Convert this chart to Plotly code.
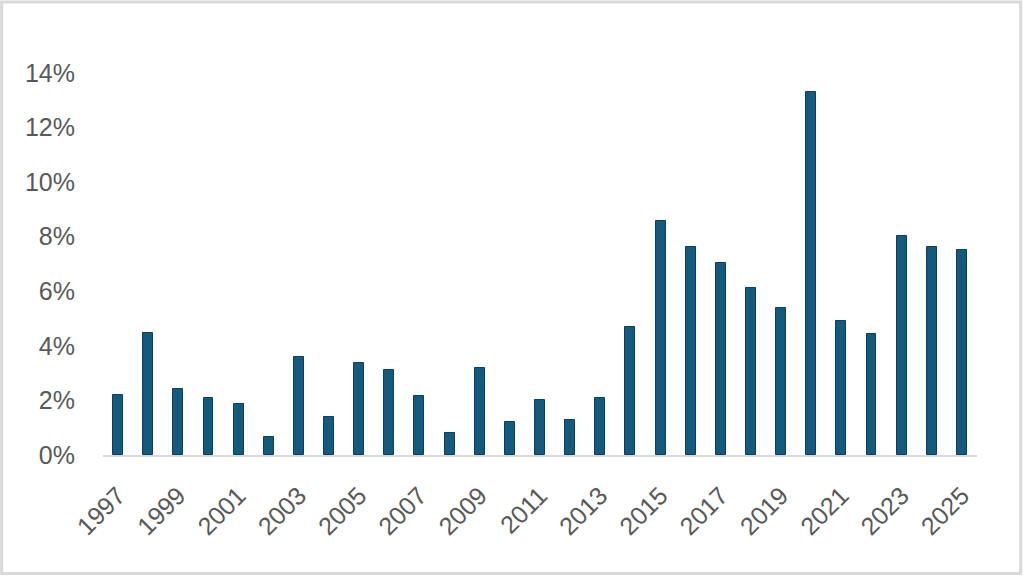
import plotly.graph_objects as go

years = list(range(1997, 2026))
values = [2.2, 4.46, 2.41, 2.08, 1.86, 0.66, 3.58, 1.39, 3.36, 3.11,
          2.16, 0.80, 3.18, 1.21, 2.01, 1.28, 2.08, 4.68, 8.59, 7.64,
          7.02, 6.11, 5.37, 13.31, 4.90, 4.42, 8.04, 7.64, 7.50]
values = [v / 100 for v in values]

fig = go.Figure()
fig.add_trace(go.Bar(x=years, y=values, width=0.33,
                     marker=dict(color="#135a7d",
                                 line=dict(color="#0d3d63", width=1))))

fig.update_layout(
    width=1024, height=576,
    margin=dict(l=103, r=47, t=73, b=121),
    plot_bgcolor="white", paper_bgcolor="white",
    font=dict(family="Liberation Sans, Arial, sans-serif", size=25, color="#595959"),
    showlegend=False,
    bargap=0,
    xaxis=dict(range=[1996.5, 2025.5], tickmode="linear", tick0=1997, dtick=2,
               tickangle=-45, showgrid=False, showline=True, linecolor="#d9d9d9",
               linewidth=2, ticks="", zeroline=False, ticklabelstandoff=14),
    yaxis=dict(range=[0, 0.14], tickformat=".0%", dtick=0.02, showgrid=False,
               zeroline=False, showline=False, ticks="", ticklabelstandoff=27),
)
# light grey frame round the whole picture
fig.add_shape(type="rect", xref="paper", yref="paper",
              x0=-0.116, x1=1.05, y0=-0.31, y1=1.186,
              line=dict(color="#d9d9d9", width=3))
fig.write_html("out.html", config={"displayModeBar": False},
               post_script="document.body.style.margin='0';document.body.style.overflow='hidden';")
